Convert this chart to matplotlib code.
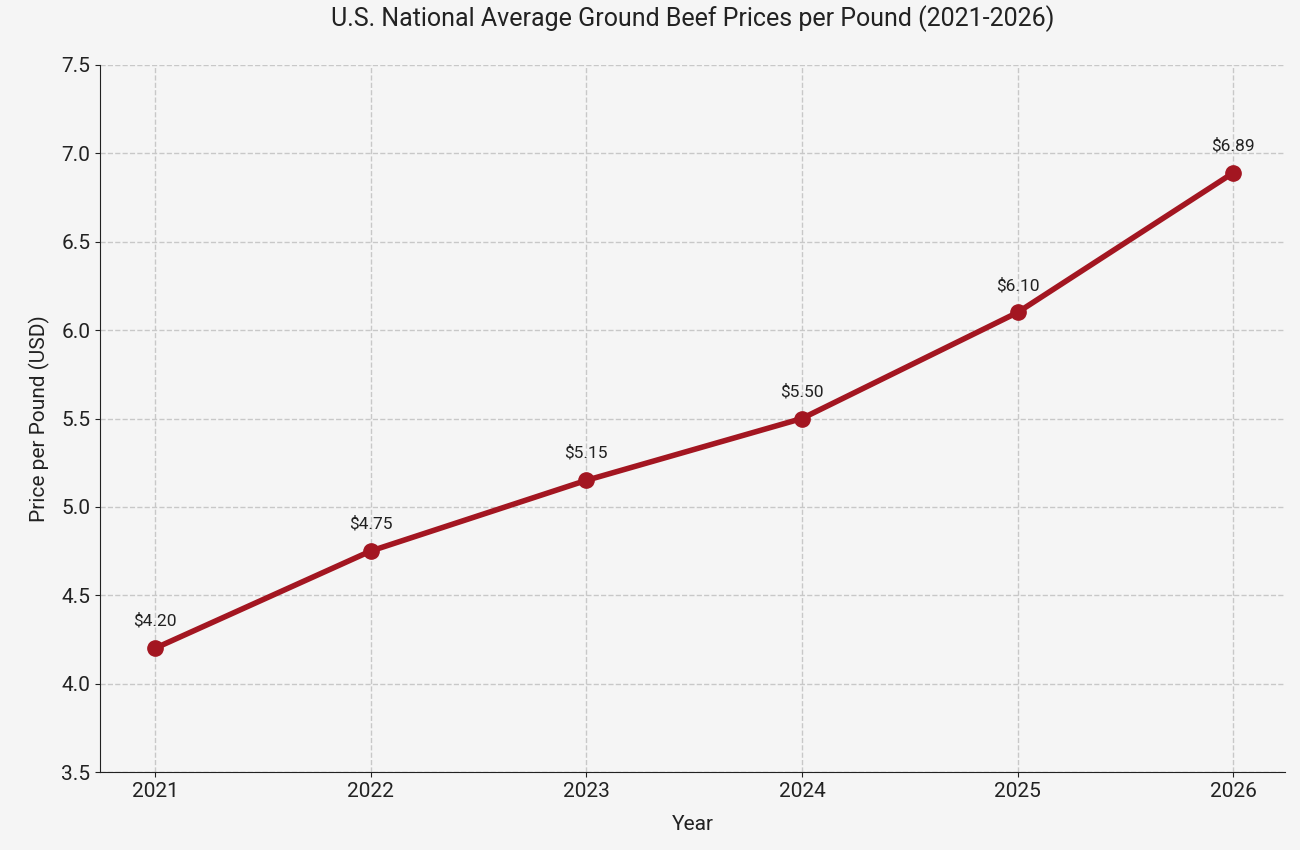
import matplotlib.pyplot as plt

years = [2021, 2022, 2023, 2024, 2025, 2026]
prices = [4.20, 4.75, 5.15, 5.50, 6.10, 6.89]

plt.rcParams['font.family'] = ['Roboto', 'DejaVu Sans']

fig = plt.figure(figsize=(13, 8.5), dpi=100, facecolor='#f5f5f5')
ax = fig.add_axes([100/1300, 1-772/850, 1185/1300, 707/850])
ax.set_facecolor('#f5f5f5')

ax.plot(years, prices, color='#a31621', linewidth=4, marker='o', markersize=11, zorder=3)
for x, y in zip(years, prices):
    ax.annotate(f'${y:.2f}', (x, y), xytext=(0, 14), textcoords='offset points',
                ha='center', va='bottom', fontsize=12.5, color='#222222')

ax.set_xlim(2020.745, 2026.24)
ax.set_ylim(3.5, 7.5)
ax.set_xticks(years)
ax.set_yticks([3.5, 4.0, 4.5, 5.0, 5.5, 6.0, 6.5, 7.0, 7.5])
ax.tick_params(labelsize=15, colors='#222222')
ax.grid(True, linestyle='--', color='#c8c8c8', linewidth=1)
ax.set_axisbelow(True)
for s in ['top', 'right']:
    ax.spines[s].set_visible(False)
for s in ['left', 'bottom']:
    ax.spines[s].set_color('#222222')

ax.set_title('U.S. National Average Ground Beef Prices per Pound (2021-2026)', fontsize=18, pad=28, color='#222222')
ax.set_xlabel('Year', fontsize=15, color='#222222', labelpad=10)
ax.set_ylabel('Price per Pound (USD)', fontsize=15, color='#222222', labelpad=8)

fig.savefig('out.png', dpi=100, facecolor=fig.get_facecolor())
